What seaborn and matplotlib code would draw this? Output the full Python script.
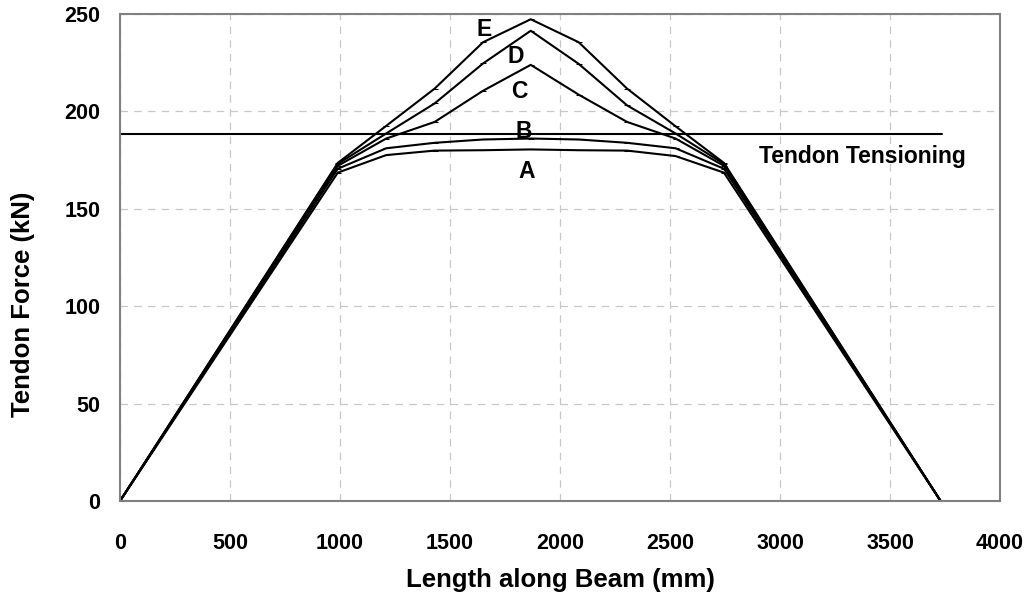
import matplotlib
matplotlib.use("Agg")
import matplotlib.pyplot as plt
import seaborn as sns
import pandas as pd

# nodes along the beam (mm) and tendon force (kN) for each case
x_nodes = [0, 990, 1210, 1430, 1650, 1867, 2085, 2305, 2525, 2745, 3730]
force_a = [0, 168.5, 177.5, 179.8, 180.0, 180.4, 180.0, 179.8, 177.0, 168.5, 0]
force_b = [0, 170.5, 181.0, 183.8, 185.5, 186.0, 185.5, 183.8, 181.0, 170.5, 0]
force_c = [0, 172.0, 186.0, 194.5, 210.5, 223.8, 208.5, 194.5, 186.0, 172.0, 0]
force_d = [0, 173.0, 188.6, 204.0, 224.5, 241.3, 224.3, 203.0, 188.6, 173.0, 0]
force_e = [0, 173.5, 192.5, 211.6, 235.4, 247.2, 235.4, 211.6, 192.3, 173.5, 0]
curve_names = ["A", "B", "C", "D", "E"]

tension_x = [0, 3735]
tension_y = [188.4, 188.4]

# label positions (x, y) for A..E
label_x = [1850, 1836, 1814, 1800, 1655]
label_y = [169, 189.5, 210, 228, 241.8]

rows = []
for name, vals in zip(curve_names, [force_a, force_b, force_c, force_d, force_e]):
    for xv, yv in zip(x_nodes, vals):
        rows.append({"x": xv, "force": yv, "case": name})
df = pd.DataFrame(rows)
df_t = pd.DataFrame({"x": tension_x, "force": tension_y})

sns.set_style("white")
plt.rcParams['font.family'] = ['Liberation Sans', 'DejaVu Sans']
plt.rcParams['text.color'] = 'black'

fig = plt.figure(figsize=(10.3, 6), dpi=100)
ax = fig.add_axes([0.1165, 0.165, 0.8544, 0.812])

sns.lineplot(data=df, x="x", y="force", hue="case", sort=False,
             palette=["black"] * 5, linewidth=1.5, marker="_", markersize=4,
             markeredgecolor="black", legend=False, ax=ax)
sns.lineplot(data=df_t, x="x", y="force", color="black", linewidth=1.5, ax=ax)

for name, lx, ly in zip(curve_names, label_x, label_y):
    ax.text(lx, ly, name, fontsize=16.5, fontweight="bold", ha="center", va="center")
ax.text(2905, 176.6, "Tendon Tensioning", fontsize=16.5, fontweight="bold",
        ha="left", va="center")

ax.set_xlim(0, 4000)
ax.set_ylim(0, 250)
ax.set_xticks(range(0, 4001, 500))
ax.set_yticks(range(0, 251, 50))
ax.grid(True, color="#c8c8c8", linestyle=(0, (6, 5)), linewidth=0.9)
for s in ax.spines.values():
    s.set_color("#808080")
    s.set_linewidth(1.5)
ax.tick_params(axis="both", direction="in", length=6, width=1.2, color="#303030",
               labelsize=15.5, labelcolor="black")
ax.tick_params(axis="x", pad=23)
ax.tick_params(axis="y", pad=14)
for lab in ax.get_xticklabels() + ax.get_yticklabels():
    lab.set_fontweight("bold")

ax.set_xlabel("Length along Beam (mm)", fontsize=18.5, fontweight="bold",
              labelpad=10, color="black")
ax.set_ylabel("Tendon Force (kN)", fontsize=18.5, fontweight="bold", color="black")
# the y title sits a little below the middle of the axis in the original
ax.yaxis.set_label_coords(-0.097, 0.403)

fig.savefig("out.png", dpi=100)
